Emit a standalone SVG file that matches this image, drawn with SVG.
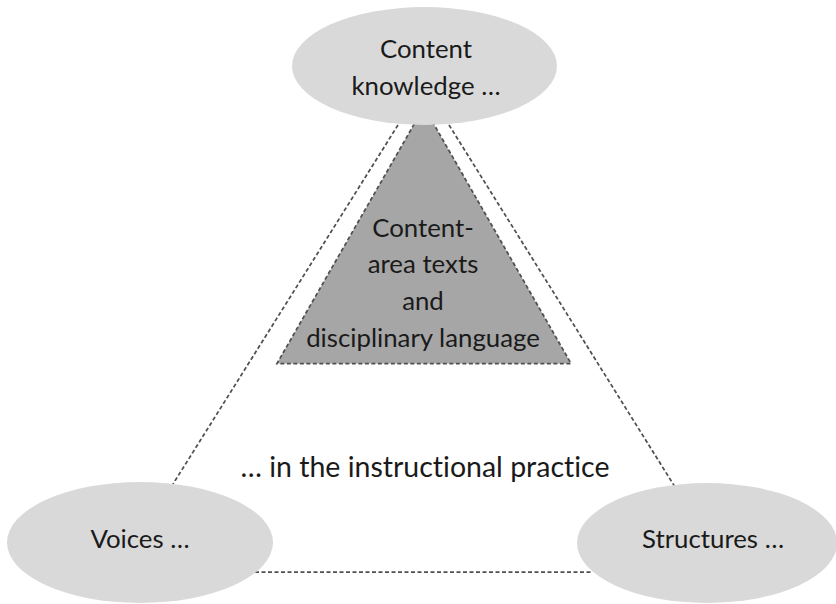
<svg xmlns="http://www.w3.org/2000/svg" width="836" height="604" viewBox="0 0 836 604">
<style>
.ell{fill:#d9d9d9;stroke:none}
.tri{fill:#a6a6a6;stroke:#505050;stroke-width:1.75;stroke-dasharray:4 2.5}
.con{fill:none;stroke:#505050;stroke-width:1.75;stroke-dasharray:4 2.5}
text{font-family:Lato,"Liberation Sans",sans-serif;fill:#1a1a1a;text-anchor:middle;font-variant-ligatures:none}
.lbl{font-size:25.8px}
.big{font-size:28.5px}
</style>
<rect width="836" height="604" fill="#ffffff"/>
<g id="triangle">
<polygon class="tri" points="424,107 277,363.5 571,363.5"/>
<text class="lbl" x="423" y="237">Content-</text>
<text class="lbl" x="423" y="273">area texts</text>
<text class="lbl" x="423" y="310">and</text>
<text class="lbl" x="423" y="347">disciplinary language</text>
</g>
<g id="connectors">
<line class="con" x1="398" y1="125" x2="173" y2="484"/>
<line class="con" x1="449" y1="125" x2="675" y2="487"/>
<line class="con" x1="255" y1="572" x2="592" y2="572"/>
</g>
<g id="content-knowledge">
<ellipse class="ell" cx="424.5" cy="66" rx="132.5" ry="59"/>
<text class="lbl" x="426" y="58">Content</text>
<text class="lbl" x="426" y="95">knowledge …</text>
</g>
<g id="voices">
<ellipse class="ell" cx="140" cy="542.5" rx="133" ry="60.5"/>
<text class="lbl" x="140" y="548">Voices …</text>
</g>
<g id="structures">
<ellipse class="ell" cx="707" cy="543" rx="130" ry="60"/>
<text class="lbl" x="713" y="548">Structures …</text>
</g>
<g id="practice">
<text class="big" x="425" y="477">… in the instructional practice</text>
</g>
</svg>
